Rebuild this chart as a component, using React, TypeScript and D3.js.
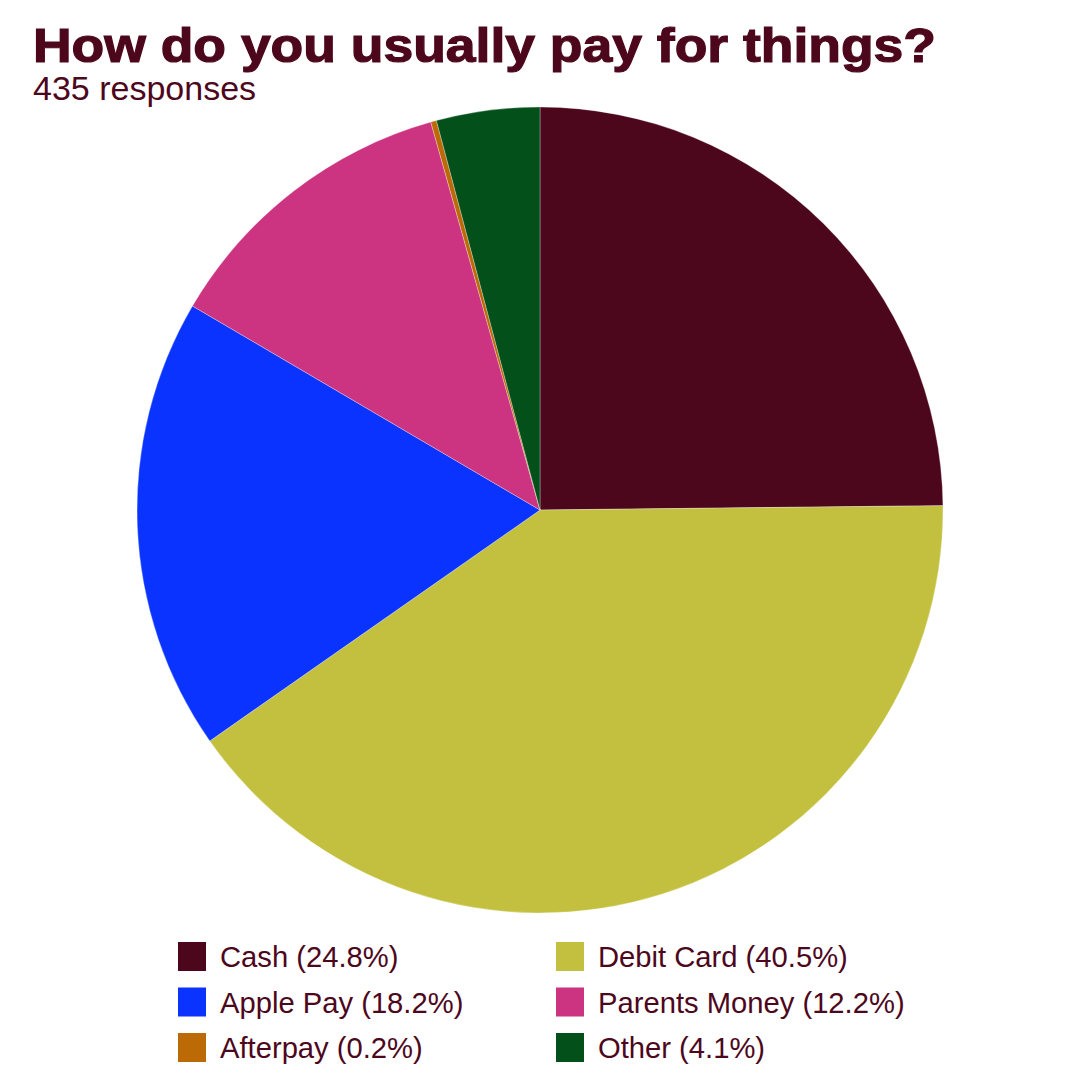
import React from "react";
import * as d3 from "d3";

const categories = ["Cash", "Debit Card", "Apple Pay", "Parents Money", "Afterpay", "Other"];
const counts = [108, 176, 79, 53, 1, 18];
const percentLabels = ["24.8%", "40.5%", "18.2%", "12.2%", "0.2%", "4.1%"];
const colors = ["#4d071d", "#c2c03e", "#0a33ff", "#cc3380", "#bb6a05", "#03501b"];
const title = "How do you usually pay for things?";
const subtitle = "435 responses";

const textColor = "#4d071d";

export default function App() {
  const width = 1080;
  const height = 1080;
  const cx = 540;
  const cy = 510;
  const r = 403;

  const data = categories.map((c, i) => ({ name: c, value: counts[i], color: colors[i], pct: percentLabels[i] }));
  const pie = d3.pie<any>().sort(null).value((d: any) => d.value);
  const arcs = pie(data);
  const arc = d3.arc<any>().innerRadius(0).outerRadius(r);

  const legendX = [178, 556];
  const legendY = [942, 987.5, 1033];

  return (
    <svg width={width} height={height} style={{ position: "absolute", left: 0, top: 0, background: "#fff" }}
      fontFamily="'Liberation Sans', Arial, sans-serif">
      <rect x={0} y={0} width={width} height={height} fill="#fff" />
      <text x={33} y={62} fontSize={48} fontWeight="bold" fill={textColor} stroke={textColor} strokeWidth={1.2}
        textLength={903} lengthAdjust="spacingAndGlyphs">{title}</text>
      <text x={33} y={100} fontSize={34} fill={textColor}>{subtitle}</text>
      <g transform={`translate(${cx},${cy})`}>
        {arcs.map((a, i) => (
          <path key={i} d={arc(a) as string} fill={a.data.color} stroke="#fff" strokeWidth={0.3} />
        ))}
      </g>
      <g>
        {data.map((d, i) => {
          const col = i % 2;
          const row = Math.floor(i / 2);
          const x = legendX[col];
          const y = legendY[row];
          return (
            <g key={i}>
              <rect x={x} y={y} width={28} height={29} fill={d.color} />
              <text x={x + 42} y={y + 25} fontSize={29.2} fill={textColor}>{`${d.name} (${d.pct})`}</text>
            </g>
          );
        })}
      </g>
    </svg>
  );
}
